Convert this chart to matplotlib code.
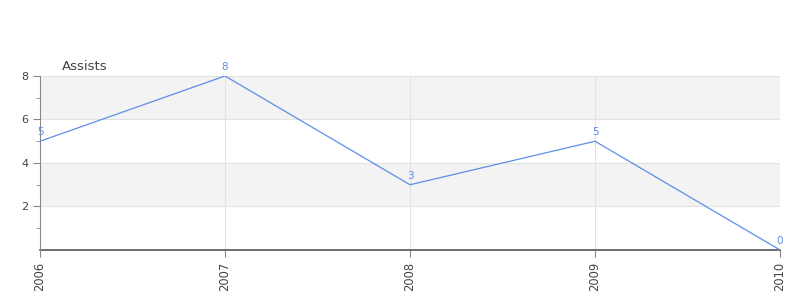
import matplotlib
matplotlib.use("Agg")
import matplotlib.pyplot as plt

years = ["2006", "2007", "2008", "2009", "2010"]
assists = [5, 8, 3, 5, 0]

LINE = "#5b8fe8"
GRID = "#e2e2e2"
BAND = "#f3f3f3"
AXIS = "#888888"
TEXT = "#444444"


def main():
    plt.rcParams.update({'font.family': 'DejaVu Sans'})
    fig = plt.figure(figsize=(8, 3), dpi=100)
    ax = fig.add_axes([0.05, 0.1667, 0.925, 0.58])

    x = list(range(len(years)))
    ax.set_xlim(0, len(years) - 1)
    ax.set_ylim(0, 8)

    # alternating bands
    for lo in (2, 6):
        ax.axhspan(lo, lo + 2, color=BAND, zorder=0, lw=0)
    for yv in (2, 4, 6, 8):
        ax.axhline(yv, color=GRID, lw=0.8, zorder=1)
    for xv in x[1:-1]:
        ax.axvline(xv, color=GRID, lw=0.8, zorder=1)

    ax.plot(x, assists, color=LINE, lw=0.9, zorder=3)
    for xi, v in zip(x, assists):
        ax.annotate(str(v), (xi, v), xytext=(0, 3), textcoords="offset points",
                    ha="center", va="bottom", color=LINE, fontsize=7.5)

    ax.set_xticks(x)
    ax.set_xticklabels(years, rotation=90, fontsize=8.3, color=TEXT)
    ax.set_yticks([2, 4, 6, 8])
    ax.set_yticks([1, 3, 5, 7], minor=True)
    ax.tick_params(axis='y', labelsize=8, labelcolor=TEXT, color=AXIS, length=5)
    ax.tick_params(axis='y', which='minor', color=AXIS, length=3)
    ax.tick_params(axis='x', color=AXIS, length=5)

    for side in ("top", "right"):
        ax.spines[side].set_visible(False)
    ax.spines["left"].set_color(AXIS)
    ax.spines["bottom"].set_color("#555555")
    ax.spines["bottom"].set_linewidth(1.2)
    ax.spines["bottom"].set_zorder(2)

    fig.text(62 / 800, 1 - 66 / 300, "Assists", fontsize=9.5, color=TEXT,
             ha="left", va="center")

    fig.savefig("out.png", dpi=100)
    plt.close(fig)


if __name__ == '__main__':
    main()
